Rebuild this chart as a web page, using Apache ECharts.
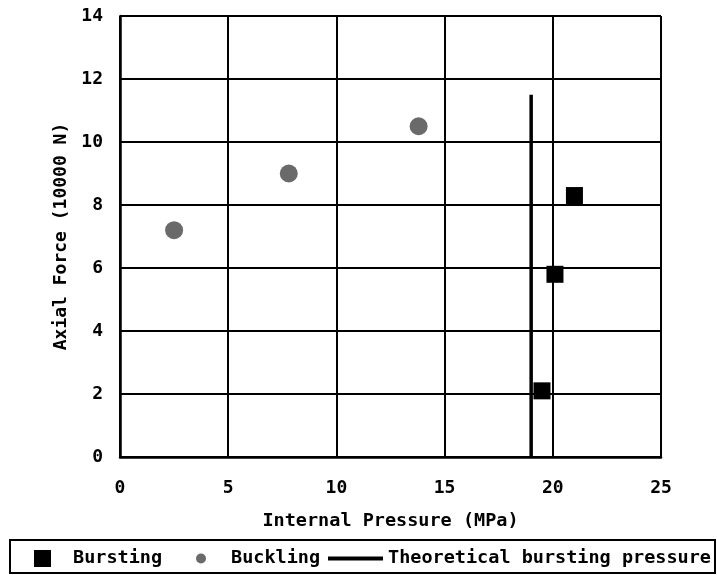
<!DOCTYPE html>
<html>
<head>
<meta charset="utf-8">
<script src="https://cdn.jsdelivr.net/npm/echarts@6/dist/echarts.min.js"></script>
<style>
html,body{margin:0;padding:0;background:#ffffff;}
#chart{width:717px;height:575px;}
</style>
</head>
<body>
<div id="chart"></div>
<script>
// Data
var burstingPressure = [19.5, 20.1, 21.0];
var burstingForce = [2.1, 5.8, 8.3];
var bucklingPressure = [2.5, 7.8, 13.8];
var bucklingForce = [7.2, 9.0, 10.5];
var theoreticalPressure = [19, 19];
var theoreticalForce = [0, 11.5];
var xTicks = [0, 5, 10, 15, 20, 25];
var yTicks = [0, 2, 4, 6, 8, 10, 12, 14];

function zip(a, b) { return a.map(function (v, i) { return [v, b[i]]; }); }

var FONT = '"DejaVu Sans Mono", "Liberation Mono", monospace';
var txt = { fontFamily: FONT, fontSize: 18, fontWeight: 'bold', color: '#000' };
var ltxt = { fontFamily: FONT, fontSize: 18.5, fontWeight: 'bold', color: '#000' };

var chart = echarts.init(document.getElementById('chart'), null, { renderer: 'canvas' });
chart.setOption({
  backgroundColor: '#ffffff',
  animation: false,
  grid: { left: 120, right: 56, top: 16, bottom: 118, containLabel: false },
  xAxis: {
    type: 'value', min: xTicks[0], max: xTicks[xTicks.length - 1], interval: 5,
    name: 'Internal Pressure (MPa)', nameLocation: 'middle', nameGap: 55,
    nameTextStyle: ltxt,
    axisLine: { show: true, lineStyle: { color: '#000', width: 2.5 } },
    axisTick: { show: false },
    axisLabel: Object.assign({ margin: 22 }, txt),
    splitLine: { show: true, lineStyle: { color: '#000', width: 2 } }
  },
  yAxis: {
    type: 'value', min: yTicks[0], max: yTicks[yTicks.length - 1], interval: 2,
    name: 'Axial Force (10000 N)', nameLocation: 'middle', nameGap: 41,
    nameTextStyle: txt,
    axisLine: { show: true, lineStyle: { color: '#000', width: 2.5 } },
    axisTick: { show: false },
    axisLabel: Object.assign({ margin: 17 }, txt),
    splitLine: { show: true, lineStyle: { color: '#000', width: 2 } }
  },
  legend: [
    { data: [{ name: 'Bursting', icon: 'path://M0,0H10V10H0Z', itemStyle: { opacity: 1 } }], left: 34, top: 549, padding: 0,
      itemWidth: 51, itemHeight: 17, itemGap: 0, textStyle: ltxt, selectedMode: false },
    { data: [{ name: 'Buckling', icon: 'circle', itemStyle: { opacity: 1 } }], left: 196, top: 549, padding: 0,
      itemWidth: 50, itemHeight: 10, itemGap: 0, textStyle: ltxt, selectedMode: false },
    { data: [{ name: 'Theoretical bursting pressure', icon: 'path://M0,0H55V4H0Z' }], left: 328, top: 549, padding: 0,
      itemWidth: 55, itemHeight: 4, itemGap: 0, textStyle: ltxt, selectedMode: false }
  ],
  graphic: [
    { type: 'rect', shape: { x: 10, y: 540, width: 705, height: 33 },
      style: { fill: 'none', stroke: '#000', lineWidth: 2 }, z: 10 }
  ],
  series: [
    { name: 'Theoretical bursting pressure', type: 'line', data: zip(theoreticalPressure, theoreticalForce),
      showSymbol: false, symbol: 'none', lineStyle: { color: '#000', width: 3.5 }, itemStyle: { color: '#000' } },
    { name: 'Bursting', type: 'scatter', data: zip(burstingPressure, burstingForce),
      symbol: 'rect', symbolSize: 17, itemStyle: { color: '#000', opacity: 1 } },
    { name: 'Buckling', type: 'scatter', data: zip(bucklingPressure, bucklingForce),
      symbol: 'circle', symbolSize: 18, itemStyle: { color: '#6a6a6a', opacity: 1 } }
  ]
});
</script>
</body>
</html>
